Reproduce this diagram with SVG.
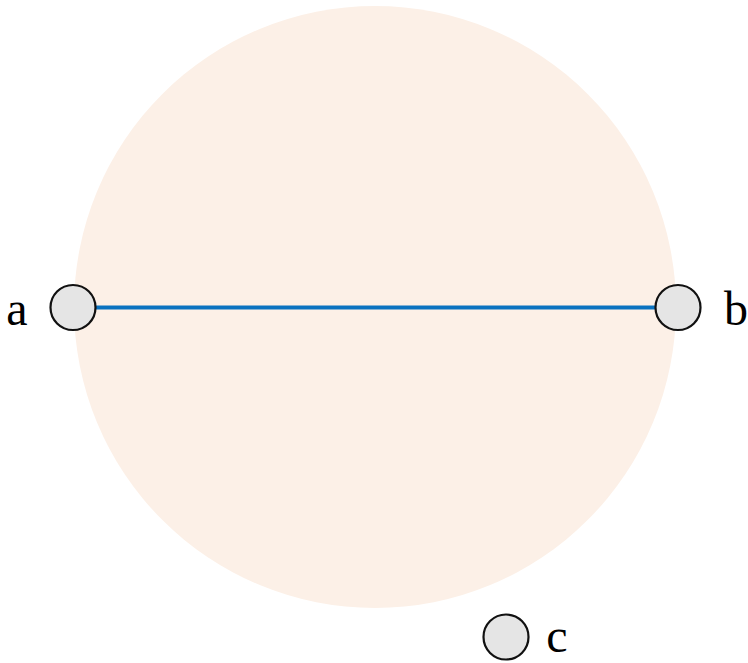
<svg xmlns="http://www.w3.org/2000/svg" width="748" height="663" viewBox="0 0 748 663">
<style>
.node{fill:#e5e5e5;stroke:#111;stroke-width:2.2}
.lbl{font-family:"Liberation Serif",serif;font-size:48px;fill:#000}
</style>
<rect width="748" height="663" fill="#fff"/>
<circle cx="375" cy="307" r="301" fill="#fcf0e7"/>
<g id="connectors">
<line x1="96" y1="307.5" x2="655" y2="307.5" stroke="#0a72c0" stroke-width="4"/>
</g>
<g id="a"><circle class="node" cx="73" cy="307.5" r="22.5"/><text class="lbl" x="17" y="325" text-anchor="middle">a</text></g>
<g id="b"><circle class="node" cx="678" cy="307.5" r="22.5"/><text class="lbl" x="736" y="325" text-anchor="middle">b</text></g>
<g id="c"><circle class="node" cx="506" cy="637" r="22.5"/><text class="lbl" x="557" y="652" text-anchor="middle">c</text></g>
</svg>
